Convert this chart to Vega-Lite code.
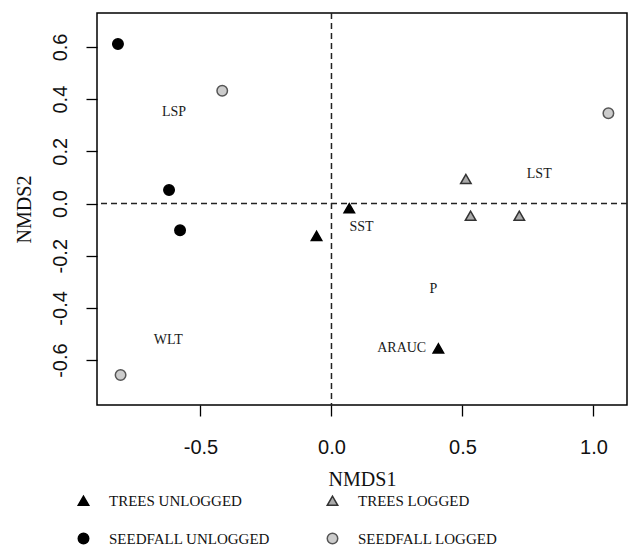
{
  "$schema": "https://vega.github.io/schema/vega-lite/v6.json",
  "width": 530,
  "height": 392,
  "autosize": {"type": "none"},
  "padding": {"left": 97, "top": 13, "right": 9, "bottom": 142},
  "background": "white",
  "config": {
    "view": {"stroke": "black", "strokeWidth": 1.5},
    "axis": {
      "domain": false,
      "grid": false,
      "tickColor": "black",
      "tickWidth": 1.3,
      "tickSize": 11,
      "labelFont": "Liberation Sans",
      "labelFontSize": 20,
      "labelColor": "#111",
      "titleFont": "Liberation Serif",
      "titleFontSize": 20,
      "titleFontWeight": "normal",
      "titleColor": "#111"
    }
  },
  "datasets": {
    "pts": [
      {"x": -0.815, "y": 0.611, "group": "SEEDFALL UNLOGGED"},
      {"x": -0.62, "y": 0.052, "group": "SEEDFALL UNLOGGED"},
      {"x": -0.578, "y": -0.102, "group": "SEEDFALL UNLOGGED"},
      {"x": -0.417, "y": 0.432, "group": "SEEDFALL LOGGED"},
      {"x": 1.057, "y": 0.346, "group": "SEEDFALL LOGGED"},
      {"x": -0.805, "y": -0.657, "group": "SEEDFALL LOGGED"},
      {"x": 0.068, "y": -0.018, "group": "TREES UNLOGGED"},
      {"x": -0.057, "y": -0.124, "group": "TREES UNLOGGED"},
      {"x": 0.408, "y": -0.555, "group": "TREES UNLOGGED"},
      {"x": 0.513, "y": 0.094, "group": "TREES LOGGED"},
      {"x": 0.531, "y": -0.047, "group": "TREES LOGGED"},
      {"x": 0.717, "y": -0.047, "group": "TREES LOGGED"}
    ],
    "labs": [
      {"x": -0.601, "y": 0.352, "label": "LSP"},
      {"x": 0.793, "y": 0.113, "label": "LST"},
      {"x": 0.115, "y": -0.089, "label": "SST"},
      {"x": 0.389, "y": -0.329, "label": "P"},
      {"x": 0.268, "y": -0.555, "label": "ARAUC"},
      {"x": -0.623, "y": -0.523, "label": "WLT"}
    ],
    "zero": [{"v": 0}]
  },
  "layer": [
    {
      "data": {"name": "zero"},
      "mark": {"type": "rule", "strokeDash": [6, 4], "strokeWidth": 1.5, "color": "#222"},
      "encoding": {"x": {"field": "v", "type": "quantitative"}}
    },
    {
      "data": {"name": "zero"},
      "mark": {"type": "rule", "strokeDash": [6, 4], "strokeWidth": 1.5, "color": "#222"},
      "encoding": {"y": {"field": "v", "type": "quantitative"}}
    },
    {
      "data": {"name": "labs"},
      "mark": {"type": "text", "font": "Liberation Serif", "fontSize": 14, "color": "#1a1a1a", "align": "center", "baseline": "middle"},
      "encoding": {
        "x": {"field": "x", "type": "quantitative"},
        "y": {"field": "y", "type": "quantitative"},
        "text": {"field": "label"}
      }
    },
    {
      "data": {"name": "pts"},
      "mark": {"type": "point", "filled": false, "opacity": 1, "strokeWidth": 1.5},
      "encoding": {
        "x": {
          "field": "x", "type": "quantitative",
          "scale": {"domain": [-0.895, 1.128], "nice": false, "zero": false},
          "axis": {"values": [-0.5, 0, 0.5, 1.0], "labelExpr": "replace(format(datum.value, '.1f'), '\u2212', '-')", "labelPadding": 21, "title": "NMDS1", "titlePadding": 12}
        },
        "y": {
          "field": "y", "type": "quantitative",
          "scale": {"domain": [-0.772, 0.73], "nice": false, "zero": false},
          "axis": {"values": [-0.6, -0.4, -0.2, 0, 0.2, 0.4, 0.6], "labelExpr": "replace(format(datum.value, '.1f'), '\u2212', '-')", "labelAngle": -90, "labelAlign": "center", "labelBaseline": "bottom", "labelPadding": 16, "title": "NMDS2", "titlePadding": 16}
        },
        "shape": {
          "field": "group", "type": "nominal",
          "scale": {"domain": ["TREES UNLOGGED", "TREES LOGGED", "SEEDFALL UNLOGGED", "SEEDFALL LOGGED"], "range": ["triangle-up", "triangle-up", "circle", "circle"]},
          "legend": {
            "title": null,
            "orient": "none",
            "legendX": -21,
            "legendY": 480,
            "direction": "horizontal",
            "columns": 2,
            "columnPadding": 54,
            "rowPadding": 21,
            "padding": 0,
            "labelFont": "Liberation Serif",
            "labelFontSize": 15,
            "labelColor": "#111",
            "labelOffset": 18,
            "labelLimit": 300
          }
        },
        "fill": {
          "field": "group", "type": "nominal",
          "scale": {"domain": ["TREES UNLOGGED", "TREES LOGGED", "SEEDFALL UNLOGGED", "SEEDFALL LOGGED"], "range": ["#000000", "#aaaaaa", "#000000", "#cccccc"]}
        },
        "stroke": {
          "field": "group", "type": "nominal",
          "scale": {"domain": ["TREES UNLOGGED", "TREES LOGGED", "SEEDFALL UNLOGGED", "SEEDFALL LOGGED"], "range": ["#000000", "#333333", "#000000", "#555555"]}
        },
        "size": {
          "field": "group", "type": "nominal",
          "scale": {"domain": ["TREES UNLOGGED", "TREES LOGGED", "SEEDFALL UNLOGGED", "SEEDFALL LOGGED"], "range": [110, 110, 38, 26]}
        }
      }
    }
  ]
}
